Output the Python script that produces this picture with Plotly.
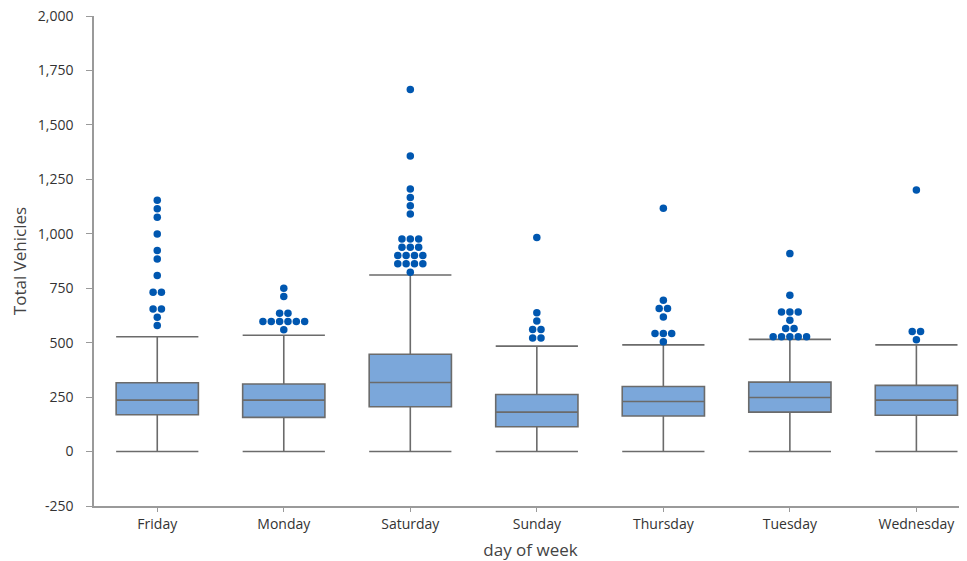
import plotly.graph_objects as go
from collections import Counter

days = ["Friday", "Monday", "Saturday", "Sunday", "Thursday", "Tuesday", "Wednesday"]
lower_fence = [0, 0, 0, 0, 0, 0, 0]
q1 = [169, 157, 206, 114, 163, 181, 167]
median = [236, 236, 317, 181, 230, 248, 236]
q3 = [316, 310, 447, 262, 299, 319, 304]
upper_fence = [527, 534, 811, 484, 490, 515, 490]

y_tick_values = [-250, 0, 250, 500, 750, 1000, 1250, 1500, 1750, 2000]
y_tick_labels = ["-250", "0", "250", "500", "750", "1,000", "1,250", "1,500", "1,750", "2,000"]

outliers = {
    "Friday": [1154, 1115, 1076, 999, 923, 884, 808, 732, 732, 655, 655, 617, 579],
    "Monday": [750, 712, 635, 635, 597, 597, 597, 597, 597, 597, 559],
    "Saturday": [1663, 1357, 1206, 1167, 1129, 1091, 976, 976, 976, 938, 938, 938,
                 900, 900, 900, 900, 862, 862, 862, 862, 823],
    "Sunday": [983, 637, 599, 561, 561, 522, 522],
    "Thursday": [1117, 695, 657, 657, 618, 542, 542, 542, 504],
    "Tuesday": [909, 718, 641, 641, 641, 603, 565, 565, 527, 527, 527, 527, 527],
    "Wednesday": [1201, 551, 551, 513],
}

xpos = list(range(len(days)))

fig = go.Figure()
fig.add_trace(go.Box(
    x=xpos, q1=q1, median=median, q3=q3,
    lowerfence=lower_fence, upperfence=upper_fence,
    width=0.65, whiskerwidth=1,
    fillcolor="#7BA7DA",
    line=dict(color="#6b6b6b", width=1.6),
    boxpoints=False, hoverinfo="skip", showlegend=False,
))

# dot-plot style outliers: identical values are spread side by side
dx = 0.066
ox, oy = [], []
for i, d in enumerate(days):
    counts = Counter(outliers[d])
    for v, n in counts.items():
        for k in range(n):
            ox.append(i + (k - (n - 1) / 2) * dx)
            oy.append(v)
fig.add_trace(go.Scatter(
    x=ox, y=oy, mode="markers",
    marker=dict(color="#0057B0", size=7.5, line=dict(width=0)),
    showlegend=False, hoverinfo="skip", cliponaxis=False,
))

font_family = "Open Sans, Noto Sans, sans-serif"
fig.update_layout(
    width=959, height=553,
    margin=dict(l=86, r=0, t=8, b=55, autoexpand=False),
    plot_bgcolor="white", paper_bgcolor="white",
    font=dict(family=font_family, color="#333333", size=14),
    xaxis=dict(
        range=[-0.5, 6.4], tickmode="array", tickvals=xpos, ticktext=days,
        showgrid=False, zeroline=False, showline=True, linecolor="#9a9a9a", linewidth=1.5,
        ticks="outside", ticklen=4, tickcolor="#9a9a9a",
        tickfont=dict(size=14), ticklabeloverflow="allow",
        title=dict(text="day of week", font=dict(size=17, color="#444444"), standoff=13),
    ),
    yaxis=dict(
        range=[-250, 2000], tickmode="array",
        tickvals=y_tick_values, ticktext=y_tick_labels,
        showgrid=False, zeroline=False,
        showline=True, linecolor="#9a9a9a", linewidth=1.5,
        ticks="outside", ticklen=6, tickcolor="#9a9a9a",
        tickfont=dict(size=14), ticklabelstandoff=10, ticklabeloverflow="allow",
        title=dict(text="Total Vehicles", font=dict(size=17, color="#444444"), standoff=14),
    ),
)

fig.write_html("out.html")
